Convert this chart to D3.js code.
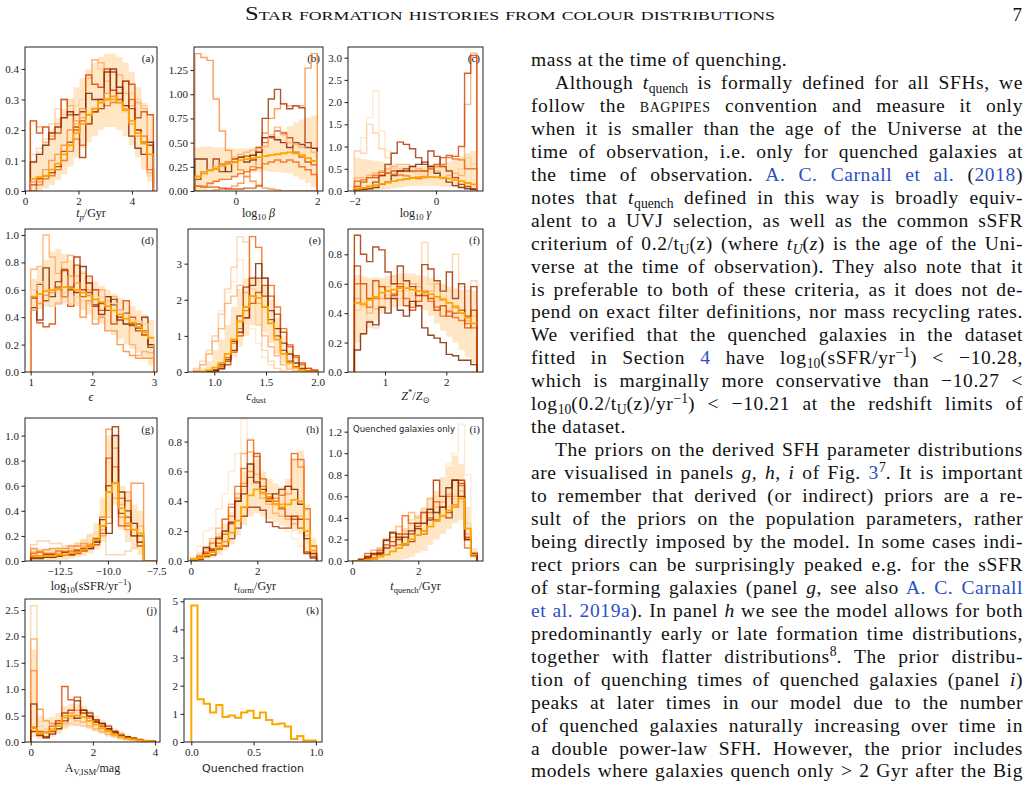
<!DOCTYPE html>
<html>
<head>
<meta charset="utf-8">
<script src="https://cdn.jsdelivr.net/npm/d3@7"></script>
<style>
  body { margin: 0; background: #fff; width: 1031px; height: 791px; overflow: hidden; position: relative; }
  .ln { position: absolute; font-family: "Liberation Serif", serif; font-size: 19.5px; line-height: 23px; letter-spacing: 0.6px; white-space: nowrap; color: #111; }
  .ln sub { font-size: 0.7em; vertical-align: -0.28em; line-height: 0; letter-spacing: 0; }
  .ln sup { font-size: 0.7em; vertical-align: 0.5em; line-height: 0; letter-spacing: 0; }
  .ln .sc { font-variant: small-caps; }
  .ln .b { color: #2b4fc4; }
</style>
</head>
<body>
<script>
const W = 1031, H = 791;

// ---------- data ----------
// (a) t_p / Gyr, bins 0.2 .. 4.8
const aMed = [0.04,0.045,0.05,0.07,0.09,0.12,0.15,0.19,0.22,0.25, 0.27,0.29,0.30,0.31,0.29,0.265,0.23,0.19,0.155,0.12];
const aLo  = [0,0,0.01,0.02,0.035,0.055,0.08,0.11,0.14,0.16, 0.18,0.2,0.21,0.21,0.2,0.18,0.15,0.11,0.07,0.03];
const aHi  = [0.1,0.13,0.16,0.2,0.24,0.27,0.3,0.34,0.37,0.4, 0.42,0.44,0.45,0.45,0.44,0.42,0.39,0.34,0.29,0.25];
const aSamples = [
  [0.12,0.14,0.17,0.22,0.27,0.25,0.30,0.28,0.30,0.35, 0.43,0.40,0.38,0.33,0.30,0.26,0.32,0.30,0.28,0.05],
  [0.23,0.21,0.16,0.18,0.22,0.30,0.28,0.22,0.24,0.37, 0.43,0.42,0.36,0.33,0.38,0.32,0.28,0.29,0.27,0.06],
  [0.00,0.02,0.04,0.05,0.07,0.10,0.13,0.17,0.15,0.22, 0.26,0.30,0.28,0.29,0.32,0.28,0.30,0.20,0.18,0.07],
  [0.23,0.19,0.21,0.17,0.19,0.30,0.25,0.20,0.23,0.38, 0.35,0.34,0.40,0.33,0.30,0.36,0.35,0.24,0.26,0.25],
  [0.02,0.04,0.05,0.06,0.08,0.13,0.16,0.21,0.11,0.22, 0.26,0.27,0.30,0.39,0.32,0.36,0.27,0.20,0.16,0.15],
  [0.095,0.12,0.15,0.19,0.21,0.24,0.26,0.25,0.26,0.32, 0.30,0.30,0.39,0.40,0.34,0.28,0.18,0.14,0.12,0.16],
  [0.03,0.03,0.07,0.10,0.12,0.15,0.20,0.23,0.27,0.25, 0.27,0.29,0.32,0.30,0.29,0.27,0.22,0.18,0.16,0.12]
];
// (b) log10 beta, bins -1 .. 2
const bMed = [0.15,0.18,0.21,0.23,0.26,0.28,0.30,0.32,0.33,0.34, 0.35,0.36,0.37,0.38,0.39,0.40,0.39,0.37,0.34,0.31];
const bLo  = [0.00,0.00,0.05,0.08,0.11,0.13,0.15,0.17,0.18,0.19, 0.20,0.21,0.20,0.20,0.19,0.18,0.15,0.12,0.08,0.04];
const bHi  = [0.45,0.46,0.46,0.45,0.45,0.44,0.44,0.44,0.44,0.45, 0.46,0.48,0.52,0.57,0.62,0.67,0.71,0.74,0.76,0.78];
const bSamples = [
  [1.42,1.38,1.35,0.95,0.62,0.42,0.30,0.22,0.15,0.10, 0.06,0.03,0.02,0.01,0.00,0.00,0.00,0.00,0.00,0.00],
  [0.00,0.00,0.00,0.01,0.02,0.03,0.05,0.08,0.15,0.25, 0.40,0.60,0.75,0.85,0.90,0.88,0.88,0.88,1.27,1.42],
  [0.12,0.20,0.22,0.33,0.20,0.30,0.33,0.35,0.36,0.32, 0.45,0.75,0.95,1.05,0.90,0.85,0.88,0.86,0.50,0.44],
  [0.33,0.33,0.22,0.23,0.28,0.20,0.30,0.35,0.30,0.37, 0.40,0.55,0.56,0.53,0.50,0.45,0.50,0.48,0.45,0.44],
  [0.05,0.04,0.04,0.04,0.03,0.02,0.02,0.02,0.03,0.03, 0.05,0.50,0.55,0.62,0.60,0.55,0.40,0.35,0.30,0.27],
  [0.15,0.20,0.22,0.25,0.28,0.30,0.35,0.38,0.40,0.42, 0.44,0.46,0.58,0.66,0.58,0.50,0.48,0.45,0.44,0.40],
  [0.05,0.05,0.08,0.10,0.12,0.12,0.15,0.18,0.20,0.22, 0.24,0.28,0.30,0.32,0.30,0.32,0.30,0.25,0.22,0.17]
];
// (c) log10 gamma, bins -2 .. 1
const cMed = [0.05,0.07,0.10,0.13,0.16,0.19,0.22,0.25,0.27,0.29, 0.31,0.32,0.32,0.31,0.30,0.28,0.25,0.22,0.18,0.15];
const cLo  = [0.00,0.00,0.00,0.00,0.02,0.04,0.06,0.08,0.10,0.11, 0.12,0.12,0.12,0.11,0.10,0.09,0.08,0.07,0.06,0.05];
const cHi  = [0.75,0.72,0.70,0.68,0.66,0.62,0.60,0.58,0.57,0.56, 0.56,0.57,0.58,0.60,0.62,0.65,0.70,0.78,0.85,0.90];
const cSamples = [
  [0.90,1.20,1.65,2.25,1.35,0.90,0.60,0.50,0.40,0.35, 0.30,0.28,0.25,0.22,0.20,0.18,0.15,0.12,0.10,0.08],
  [0.90,0.85,1.50,1.30,0.95,0.75,0.50,0.50,0.45,0.42, 0.38,0.35,0.30,0.30,0.28,0.30,0.32,0.50,0.75,0.60],
  [0.30,0.30,0.35,0.40,0.45,0.50,0.55,0.60,0.60,0.55, 0.50,0.45,0.50,0.45,0.30,0.35,0.40,0.35,1.95,3.10],
  [0.10,0.20,0.30,0.30,0.35,0.40,0.45,0.45,0.50,0.45, 0.45,0.45,0.55,0.60,0.75,0.80,0.78,1.00,2.65,3.05],
  [0.03,0.05,0.10,0.20,0.35,0.60,0.85,1.10,1.05,0.95, 0.75,0.60,0.90,0.78,0.55,0.45,0.30,0.15,0.10,0.05],
  [0.02,0.03,0.05,0.08,0.15,0.20,0.35,0.45,0.45,0.55, 0.60,0.65,0.55,0.40,0.30,0.20,0.12,0.08,0.05,0.03],
  [0.22,0.25,0.30,0.35,0.42,0.40,0.38,0.36,0.34,0.30, 0.28,0.30,0.50,0.55,0.60,0.75,0.72,0.70,0.50,0.50]
];
// (d) epsilon, bins 1 .. 3
const dMed = [0.55,0.57,0.59,0.60,0.61,0.62,0.61,0.60,0.58,0.56, 0.53,0.51,0.48,0.45,0.42,0.39,0.36,0.33,0.29,0.25];
const dLo  = [0.45,0.46,0.48,0.49,0.50,0.50,0.49,0.48,0.45,0.42, 0.38,0.35,0.30,0.27,0.24,0.20,0.17,0.14,0.10,0.05];
const dHi  = [0.68,0.76,0.82,0.88,0.90,0.86,0.82,0.78,0.74,0.70, 0.66,0.63,0.60,0.57,0.54,0.51,0.48,0.45,0.42,0.38];
const dSamples = [
  [0.75,0.77,1.00,0.84,0.72,0.80,0.85,0.70,0.72,0.60, 0.60,0.60,0.52,0.55,0.45,0.35,0.20,0.12,0.15,0.14],
  [0.55,0.36,0.33,0.35,0.50,0.75,0.48,0.78,0.55,0.70, 0.60,0.45,0.55,0.35,0.45,0.52,0.40,0.35,0.30,0.20],
  [0.47,0.38,0.76,0.55,0.62,0.55,0.60,0.58,0.77,0.65, 0.49,0.42,0.55,0.49,0.38,0.35,0.35,0.32,0.40,0.20],
  [0.54,0.64,0.52,0.60,0.66,0.74,0.62,0.84,0.60,0.58, 0.48,0.50,0.45,0.53,0.40,0.43,0.34,0.30,0.27,0.18],
  [0.60,0.66,0.60,0.48,0.50,0.58,0.50,0.55,0.52,0.50, 0.53,0.55,0.50,0.50,0.45,0.42,0.38,0.37,0.35,0.25],
  [0.45,0.50,0.56,0.58,0.60,0.55,0.70,0.65,0.40,0.52, 0.35,0.40,0.30,0.30,0.20,0.15,0.12,0.10,0.10,0.10]
];
// (e) c_dust, bins 0.8 .. 2.0
const eMed = [0.00,0.01,0.05,0.12,0.25,0.50,0.90,1.40,1.80,2.10, 2.05,1.80,1.35,0.90,0.50,0.25,0.12,0.05,0.02,0.00];
const eLo  = [0.00,0.00,0.00,0.02,0.08,0.20,0.40,0.70,1.00,1.30, 1.30,1.10,0.80,0.50,0.25,0.10,0.04,0.01,0.00,0.00];
const eHi  = [0.05,0.12,0.30,0.60,0.90,1.30,1.80,2.30,2.60,2.65, 2.60,2.40,2.00,1.50,1.00,0.60,0.35,0.20,0.10,0.05];
const eSamples = [
  [0.10,0.20,0.50,1.00,1.70,2.20,2.50,3.10,2.20,1.20, 0.80,0.40,0.20,0.10,0.05,0.00,0.00,0.00,0.00,0.00],
  [0.10,0.30,0.60,1.00,1.60,2.30,2.90,3.75,3.60,2.30, 1.30,0.60,0.30,0.10,0.02,0.00,0.00,0.00,0.00,0.00],
  [0.05,0.20,0.50,0.85,1.20,1.90,2.10,2.40,2.20,2.10, 1.90,1.00,0.70,0.45,0.20,0.08,0.02,0.00,0.00,0.00],
  [0.00,0.00,0.02,0.05,0.15,0.40,0.80,1.20,1.70,3.75, 3.45,2.60,2.40,1.80,1.20,0.70,0.40,0.20,0.10,0.05],
  [0.00,0.00,0.00,0.02,0.08,0.20,0.55,1.00,1.50,1.90, 2.20,2.40,2.10,1.60,1.10,0.75,0.45,0.25,0.10,0.05],
  [0.00,0.00,0.01,0.05,0.20,0.35,0.85,1.55,2.35,2.60, 2.60,2.10,1.45,1.00,0.60,0.30,0.15,0.05,0.02,0.00],
  [0.00,0.00,0.02,0.05,0.10,0.30,0.60,1.10,1.50,2.40, 3.00,2.60,1.70,1.20,0.80,0.50,0.25,0.10,0.03,0.00]
];
// (f) Z*/Zsun, bins 0.5 .. 2.5
const fMed = [0.47,0.46,0.49,0.51,0.54,0.55,0.56,0.57,0.57,0.56, 0.55,0.54,0.53,0.51,0.49,0.47,0.44,0.40,0.37,0.33];
const fLo  = [0.20,0.25,0.30,0.35,0.40,0.42,0.44,0.45,0.45,0.45, 0.44,0.42,0.38,0.33,0.28,0.24,0.20,0.15,0.10,0.06];
const fHi  = [0.66,0.65,0.64,0.64,0.64,0.65,0.66,0.67,0.67,0.67, 0.66,0.65,0.64,0.62,0.60,0.58,0.57,0.56,0.56,0.55];
const fSamples = [
  [0.42,0.45,0.35,0.30,0.45,0.52,0.65,0.50,0.55,0.52, 0.60,0.88,0.60,0.48,0.50,0.55,0.80,0.58,0.55,0.62],
  [0.50,0.47,0.40,0.43,0.50,0.58,0.60,0.55,0.62,0.60, 0.58,0.52,0.55,0.60,0.50,0.42,0.45,0.40,0.35,0.38],
  [0.60,0.46,0.44,0.50,0.58,0.55,0.53,0.60,0.50,0.44, 0.55,0.55,0.48,0.44,0.38,0.41,0.37,0.35,0.33,0.30],
  [0.72,0.60,0.50,0.62,0.58,0.50,0.52,0.58,0.45,0.42, 0.48,0.52,0.50,0.42,0.45,0.38,0.40,0.42,0.30,0.42],
  [0.93,0.80,0.75,0.85,0.83,0.68,0.60,0.72,0.62,0.58, 0.52,0.73,0.70,0.62,0.55,0.68,0.50,0.60,0.38,0.58],
  [0.15,0.26,0.34,0.32,0.44,0.40,0.50,0.42,0.38,0.48, 0.45,0.30,0.25,0.23,0.20,0.12,0.11,0.08,0.08,0.05]
];
// (g) log10 sSFR, bins -14 .. -7.5
const gMed = [0.04,0.04,0.04,0.04,0.05,0.05,0.06,0.07,0.09,0.12, 0.17,0.28,0.55,0.62,0.42,0.30,0.25,0.22,0.00,0.00];
const gLo  = [0.00,0.00,0.00,0.00,0.01,0.01,0.02,0.03,0.04,0.06, 0.09,0.15,0.35,0.45,0.25,0.15,0.10,0.05,0.00,0.00];
const gHi  = [0.10,0.10,0.10,0.10,0.11,0.12,0.13,0.15,0.18,0.22, 0.30,0.50,1.00,1.00,0.60,0.55,0.45,0.40,0.00,0.00];
const gSamples = [
  [0.13,0.16,0.16,0.14,0.14,0.12,0.12,0.14,0.16,0.20, 0.22,0.25,0.05,0.05,0.05,0.08,0.10,0.12,0.00,0.00],
  [0.07,0.07,0.06,0.06,0.06,0.08,0.10,0.12,0.12,0.14, 0.16,0.25,0.35,0.50,0.45,0.55,0.30,0.28,0.00,0.00],
  [0.10,0.08,0.09,0.10,0.10,0.10,0.12,0.12,0.14,0.13, 0.15,0.20,1.05,0.90,0.35,0.25,0.62,0.62,0.00,0.00],
  [0.06,0.07,0.06,0.06,0.08,0.07,0.08,0.09,0.10,0.12, 0.16,0.35,0.30,0.75,0.50,0.48,0.25,0.15,0.00,0.00],
  [0.03,0.03,0.03,0.03,0.04,0.05,0.05,0.06,0.08,0.10, 0.13,0.22,0.82,0.62,0.28,0.28,0.20,0.12,0.00,0.00],
  [0.04,0.04,0.05,0.05,0.05,0.07,0.06,0.08,0.10,0.12, 0.18,0.28,0.60,1.07,0.38,0.35,0.20,0.15,0.00,0.00],
  [0.02,0.02,0.03,0.03,0.04,0.05,0.05,0.07,0.09,0.10, 0.15,0.33,0.22,1.00,0.55,0.40,0.30,0.20,0.00,0.00]
];
// (h) t_form / Gyr, bins 0 .. 3.78
const hMed = [0.01,0.02,0.04,0.06,0.09,0.13,0.19,0.27,0.36,0.44, 0.48,0.46,0.41,0.38,0.36,0.38,0.41,0.40,0.20,0.07];
const hLo  = [0.00,0.00,0.01,0.02,0.04,0.07,0.11,0.17,0.24,0.30, 0.32,0.30,0.28,0.26,0.24,0.22,0.20,0.18,0.06,0.02];
const hHi  = [0.03,0.06,0.10,0.14,0.19,0.25,0.33,0.46,0.60,0.66, 0.68,0.60,0.55,0.52,0.50,0.55,0.68,0.74,0.38,0.15];
const hSamples = [
  [0.02,0.10,0.20,0.22,0.35,0.45,0.60,0.72,0.95,0.82, 0.60,0.45,0.35,0.30,0.25,0.20,0.15,0.10,0.05,0.02],
  [0.00,0.04,0.08,0.15,0.22,0.28,0.38,0.45,0.72,0.73, 0.58,0.42,0.38,0.32,0.30,0.28,0.25,0.30,0.17,0.05],
  [0.00,0.03,0.05,0.08,0.10,0.20,0.30,0.42,0.52,0.60, 0.52,0.45,0.43,0.42,0.38,0.45,0.68,0.63,0.28,0.10],
  [0.01,0.03,0.06,0.12,0.16,0.28,0.36,0.50,0.62,0.81, 0.70,0.50,0.45,0.40,0.44,0.50,0.72,0.68,0.35,0.10],
  [0.01,0.02,0.05,0.08,0.12,0.18,0.25,0.40,0.50,0.56, 0.72,0.55,0.42,0.38,0.35,0.30,0.28,0.22,0.06,0.03],
  [0.01,0.01,0.03,0.04,0.08,0.10,0.15,0.22,0.30,0.36, 0.36,0.34,0.26,0.23,0.22,0.22,0.30,0.28,0.05,0.02],
  [0.00,0.02,0.09,0.07,0.15,0.20,0.26,0.40,0.45,0.65, 0.53,0.48,0.40,0.45,0.48,0.50,0.48,0.38,0.15,0.05]
];
// (i) t_quench / Gyr, bins 0 .. 3.78
const iMed = [0.00,0.00,0.01,0.02,0.04,0.06,0.09,0.12,0.16,0.20, 0.24,0.28,0.32,0.37,0.42,0.47,0.52,0.58,0.30,0.06];
const iLo  = [0.00,0.00,0.00,0.00,0.00,0.00,0.00,0.01,0.02,0.04, 0.08,0.10,0.15,0.20,0.25,0.30,0.35,0.38,0.18,0.02];
const iHi  = [0.01,0.02,0.05,0.08,0.12,0.16,0.20,0.26,0.30,0.36, 0.42,0.50,0.58,0.65,0.78,0.88,0.98,0.90,0.50,0.12];
const iSamples = [
  [0.00,0.00,0.00,0.00,0.00,0.00,0.00,0.00,0.03,0.05, 0.08,0.10,0.30,0.45,0.60,0.90,1.00,1.27,0.80,0.10],
  [0.00,0.01,0.03,0.05,0.08,0.12,0.18,0.24,0.30,0.38, 0.42,0.48,0.45,0.60,0.55,0.50,0.58,0.55,0.35,0.08],
  [0.00,0.02,0.05,0.10,0.12,0.20,0.22,0.32,0.28,0.45, 0.40,0.45,0.58,0.50,0.55,0.62,0.60,0.65,0.25,0.05],
  [0.00,0.02,0.07,0.03,0.10,0.20,0.27,0.15,0.42,0.35, 0.30,0.25,0.45,0.55,0.42,0.60,0.50,0.70,0.12,0.07],
  [0.00,0.01,0.03,0.06,0.08,0.15,0.18,0.25,0.25,0.25, 0.32,0.45,0.40,0.38,0.50,0.45,0.75,0.72,0.22,0.05],
  [0.00,0.00,0.02,0.02,0.06,0.12,0.14,0.20,0.22,0.18, 0.30,0.28,0.38,0.75,0.60,0.40,0.75,0.75,0.20,0.05],
  [0.00,0.01,0.04,0.07,0.07,0.19,0.26,0.22,0.15,0.28, 0.35,0.35,0.48,0.45,0.50,0.68,0.75,0.60,0.20,0.07]
];
// (j) A_V,ISM / mag, bins 0 .. 4
const jMed = [0.26,0.16,0.18,0.22,0.30,0.46,0.50,0.50,0.47,0.40, 0.33,0.26,0.20,0.14,0.10,0.07,0.05,0.03,0.02,0.01];
const jLo  = [0.10,0.05,0.06,0.10,0.15,0.25,0.30,0.30,0.28,0.24, 0.20,0.15,0.10,0.07,0.04,0.02,0.01,0.00,0.00,0.00];
const jHi  = [1.75,0.50,0.45,0.48,0.55,0.68,0.72,0.72,0.68,0.60, 0.50,0.42,0.34,0.26,0.20,0.14,0.10,0.06,0.04,0.02];
const jSamples = [
  [2.58,0.30,0.25,0.20,0.25,0.30,0.35,0.33,0.30,0.28, 0.22,0.18,0.14,0.10,0.07,0.05,0.03,0.02,0.01,0.00],
  [1.95,0.18,0.20,0.25,0.30,0.35,0.45,0.40,0.38,0.30, 0.25,0.20,0.15,0.12,0.08,0.06,0.04,0.02,0.01,0.00],
  [1.35,0.62,0.40,0.35,0.40,0.50,0.55,0.60,0.55,0.45, 0.38,0.30,0.22,0.16,0.12,0.10,0.06,0.04,0.02,0.01],
  [0.28,0.20,0.18,0.30,0.40,1.05,0.80,0.85,0.55,0.50, 0.40,0.30,0.25,0.20,0.15,0.10,0.08,0.05,0.03,0.02],
  [0.72,0.15,0.10,0.20,0.35,0.55,0.60,0.78,0.60,0.55, 0.42,0.35,0.30,0.18,0.12,0.08,0.05,0.03,0.02,0.01],
  [0.20,0.12,0.08,0.15,0.25,0.40,0.50,0.45,0.60,0.48, 0.38,0.35,0.25,0.20,0.12,0.10,0.06,0.04,0.02,0.01]
];
// (k) quenched fraction, bins 0 .. 1
const kVals = [4.85,1.52,1.36,1.05,1.31,0.89,0.94,0.86,1.05,1.11, 0.85,1.05,0.78,0.63,0.66,0.55,0.11,0.21,0.05,0.05];

// ---------- styles ----------
const shades = ["#fee6ce", "#fdd0a2", "#fdae6b", "#fd8d3c", "#f16913", "#d94801", "#a63603", "#7f2704"];
const bandColor = "#ffe6c4";
const medColor = "#ffa500";
const serif = "'Liberation Serif', 'DejaVu Serif', serif";
const sans = "'DejaVu Sans', sans-serif";

const panels = [
  { id: "a", frame: [25, 47, 157, 191], x: [0, 4.935], y: [0, 0.472], bins: [0.2, 4.8],
    xt: [0, 2, 4], xf: "d", yt: [0, 0.1, 0.2, 0.3, 0.4], yf: ".1f",
    med: aMed, lo: aLo, hi: aHi, samples: aSamples, cols: [1, 2, 4, 5, 6, 7, 3],
    label: [["t", "i"], ["p", "isub"], ["/Gyr", ""]], labelY: 217 },
  { id: "b", frame: [194, 47, 323, 191], x: [-1.02, 2.14], y: [0, 1.488], bins: [-1, 2],
    xt: [0, 2], xf: "d", yt: [0, 0.25, 0.5, 0.75, 1.0, 1.25], yf: ".2f",
    med: bMed, lo: bLo, hi: bHi, samples: bSamples, cols: [3, 3, 6, 7, 5, 2, 4],
    label: [["log", ""], ["10", "sub"], [" β", "i"]], labelY: 217 },
  { id: "c", frame: [348, 47, 483, 191], x: [-2.157, 1.152], y: [0, 3.24], bins: [-2, 1],
    xt: [-2, 0], xf: "d", yt: [0, 0.5, 1, 1.5, 2, 2.5, 3], yf: ".1f",
    med: cMed, lo: cLo, hi: cHi, samples: cSamples, cols: [0, 1, 2, 5, 6, 7, 4],
    label: [["log", ""], ["10", "sub"], [" γ", "i"]], labelY: 217 },
  { id: "d", frame: [25, 229, 157, 372], x: [0.908, 3.047], y: [0, 1.044], bins: [1, 3],
    xt: [1, 2, 3], xf: "d", yt: [0, 0.2, 0.4, 0.6, 0.8, 1.0], yf: ".1f",
    med: dMed, lo: dLo, hi: dHi, samples: dSamples, cols: [2, 5, 7, 6, 1, 3],
    label: [["ϵ", "i"]], labelY: 401 },
  { id: "e", frame: [188, 229, 324, 372], x: [0.746, 2.061], y: [0, 3.96], bins: [0.8, 2.0],
    xt: [1, 1.5, 2], xf: ".1f", yt: [0, 1, 2, 3], yf: "d",
    med: eMed, lo: eLo, hi: eHi, samples: eSamples, cols: [0, 1, 2, 4, 5, 6, 7],
    label: [["c", "i"], ["dust", "sub"]], labelY: 400 },
  { id: "f", frame: [348, 229, 483, 372], x: [0.396, 2.599], y: [0, 0.972], bins: [0.5, 2.5],
    xt: [1, 2], xf: "d", yt: [0, 0.2, 0.4, 0.6, 0.8], yf: ".1f",
    med: fMed, lo: fLo, hi: fHi, samples: fSamples, cols: [1, 2, 4, 5, 6, 7],
    label: [["Z", "i"], ["*", "sup"], ["/", ""], ["Z", "i"], ["⊙", "sub"]], labelY: 400 },
  { id: "g", frame: [25, 418, 157, 561], x: [-14.295, -7.456], y: [0, 1.14], bins: [-14, -7.5],
    xt: [-12.5, -10, -7.5], xf: ".1f", yt: [0, 0.2, 0.4, 0.6, 0.8, 1.0], yf: ".1f",
    med: gMed, lo: gLo, hi: gHi, samples: gSamples, cols: [1, 2, 3, 4, 5, 6, 7],
    label: [["log", ""], ["10", "sub"], ["(sSFR/yr", ""], ["−1", "sup"], [")", ""]], labelY: 590 },
  { id: "h", frame: [188, 418, 322, 561], x: [-0.081, 3.943], y: [0, 0.958], bins: [0, 3.78],
    xt: [0, 2], xf: "d", yt: [0, 0.2, 0.4, 0.6, 0.8], yf: ".1f",
    med: hMed, lo: hLo, hi: hHi, samples: hSamples, cols: [0, 2, 3, 4, 5, 6, 7],
    label: [["t", "i"], ["form", "sub"], ["/Gyr", ""]], labelY: 590 },
  { id: "i", frame: [348, 418, 483, 561], x: [-0.13, 3.96], y: [0, 1.327], bins: [0, 3.78],
    xt: [0, 2], xf: "d", yt: [0, 0.2, 0.4, 0.6, 0.8, 1.0, 1.2], yf: ".1f",
    med: iMed, lo: iLo, hi: iHi, samples: iSamples, cols: [0, 1, 2, 4, 5, 6, 7],
    label: [["t", "i"], ["quench", "sub"], ["/Gyr", ""]], labelY: 590, note: "Quenched galaxies only" },
  { id: "j", frame: [25, 599, 160, 742], x: [-0.183, 4.157], y: [0, 2.708], bins: [0, 4],
    xt: [0, 2, 4], xf: "d", yt: [0, 0.5, 1, 1.5, 2, 2.5], yf: ".1f",
    med: jMed, lo: jLo, hi: jHi, samples: jSamples, cols: [1, 2, 3, 5, 6, 7],
    label: [["A", ""], ["V,ISM", "sub"], ["/mag", ""]], labelY: 772 },
  { id: "k", frame: [184, 599, 322, 742], x: [-0.0586, 1.049], y: [0, 5.08], bins: [0, 1],
    xt: [0, 0.5, 1], xf: ".1f", yt: [0, 1, 2, 3, 4, 5], yf: "d",
    med: kVals, lo: null, hi: null, samples: [], cols: [],
    label: [["Quenched fraction", "sans"]], labelY: 772 }
];

const svg = d3.select("body").append("svg")
  .attr("width", W).attr("height", H)
  .style("position", "absolute").style("left", 0).style("top", 0);

// running head
svg.append("text")
  .attr("x", 245).attr("y", 20)
  .attr("textLength", 530).attr("lengthAdjust", "spacingAndGlyphs")
  .style("font-family", serif).style("font-size", "18px").style("font-variant", "small-caps")
  .attr("fill", "#111")
  .text("Star formation histories from colour distributions");
svg.append("text")
  .attr("x", 1022).attr("y", 21).attr("text-anchor", "end")
  .style("font-family", serif).style("font-size", "19px").attr("fill", "#111")
  .text("7");

function addLabel(sel, segs) {
  let shift = 0;
  segs.forEach(([t, k]) => {
    const target = k.includes("sub") ? 3 : k.includes("sup") ? -5 : 0;
    const ts = sel.append("tspan").text(t).attr("dy", target - shift);
    shift = target;
    if (k.includes("i")) ts.attr("font-style", "italic");
    if (k === "sans") ts.style("font-family", sans).style("font-size", "11px");
    if (target) ts.attr("font-size", "0.72em");
  });
}

panels.forEach(p => {
  const [x0, y0, x1, y1] = p.frame;
  const x = d3.scaleLinear().domain(p.x).range([x0, x1]);
  const y = d3.scaleLinear().domain(p.y).range([y1, y0]);
  const g = svg.append("g");

  const clipId = "clip-" + p.id;
  svg.append("clipPath").attr("id", clipId)
    .append("rect").attr("x", x0).attr("y", y0).attr("width", x1 - x0).attr("height", y1 - y0);
  const plot = g.append("g").attr("clip-path", `url(#${clipId})`);

  const n = p.med.length;
  const bw = (p.bins[1] - p.bins[0]) / n;
  const edge = i => p.bins[0] + i * bw;

  // 16-84 band
  if (p.lo) {
    const pts = [];
    p.lo.forEach((v, i) => {
      pts.push({ x: edge(i), lo: v, hi: p.hi[i] });
      pts.push({ x: edge(i + 1), lo: v, hi: p.hi[i] });
    });
    plot.append("path")
      .attr("d", d3.area().x(d => x(d.x)).y0(d => y(d.lo)).y1(d => y(d.hi))(pts))
      .attr("fill", bandColor);
  }

  const step = (vals, closed) => {
    const pts = [];
    if (closed) pts.push([edge(0), 0]);
    vals.forEach((v, i) => { pts.push([edge(i), v]); pts.push([edge(i + 1), v]); });
    if (closed) pts.push([edge(n), 0]);
    return d3.line().x(d => x(d[0])).y(d => y(d[1]))(pts);
  };

  p.samples.forEach((s, i) => {
    plot.append("path").attr("d", step(s, true))
      .attr("fill", "none").attr("stroke", shades[p.cols[i]])
      .attr("stroke-width", 1.4).attr("stroke-opacity", 0.85);
  });

  if (p.id === "k") {
    plot.append("path").attr("d", step(p.med, true))
      .attr("fill", "none").attr("stroke", medColor).attr("stroke-width", 2);
  } else {
    plot.append("path").attr("d", step(p.med, false))
      .attr("fill", "none").attr("stroke", medColor).attr("stroke-width", 1.8);
  }

  // axes
  const xa = g.append("g").attr("transform", `translate(0,${y1})`)
    .call(d3.axisBottom(x).tickValues(p.xt).tickFormat(d3.format(p.xf)).tickSize(3.5).tickPadding(2.5));
  const ya = g.append("g").attr("transform", `translate(${x0},0)`)
    .call(d3.axisLeft(y).tickValues(p.yt).tickFormat(d3.format(p.yf)).tickSize(3.5).tickPadding(2.5));
  [xa, ya].forEach(a => {
    a.attr("font-family", serif).attr("font-size", 11);
    a.select(".domain").remove();
    a.selectAll("line").attr("stroke", "#222");
    a.selectAll("text").attr("fill", "#222");
  });

  g.append("rect")
    .attr("x", x0).attr("y", y0).attr("width", x1 - x0).attr("height", y1 - y0)
    .attr("fill", "none").attr("stroke", "#222").attr("stroke-width", 1);

  g.append("text")
    .attr("x", x1 - 3).attr("y", y0 + 15).attr("text-anchor", "end")
    .style("font-family", serif).style("font-size", "11px").attr("fill", "#222")
    .text(`(${p.id})`);

  if (p.note) {
    g.append("text")
      .attr("x", x0 + 5).attr("y", y0 + 14)
      .style("font-family", sans).style("font-size", "8.5px").attr("fill", "#222")
      .text(p.note);
  }

  const lab = g.append("text")
    .attr("x", (x0 + x1) / 2).attr("y", p.labelY).attr("text-anchor", "middle")
    .style("font-family", serif).style("font-size", "12px").attr("fill", "#222");
  addLabel(lab, p.label);
});

// ---------- body text (right column) ----------
const textLines = [
  "mass at the time of quenching.",
  "Although <i>t</i><sub>quench</sub> is formally defined for all SFHs, we",
  "follow the <span class=sc>bagpipes</span> convention and measure it only",
  "when it is smaller than the age of the Universe at the",
  "time of observation, i.e. only for quenched galaxies at",
  "the time of observation. <span class=b>A. C. Carnall et al.</span> (<span class=b>2018</span>)",
  "notes that <i>t</i><sub>quench</sub> defined in this way is broadly equiv-",
  "alent to a UVJ selection, as well as the common sSFR",
  "criterium of 0.2/t<sub>U</sub>(z) (where <i>t<sub>U</sub></i>(<i>z</i>) is the age of the Uni-",
  "verse at the time of observation). They also note that it",
  "is preferable to both of these criteria, as it does not de-",
  "pend on exact filter definitions, nor mass recycling rates.",
  "We verified that the quenched galaxies in the dataset",
  "fitted in Section <span class=b>4</span> have log<sub>10</sub>(sSFR/yr<sup>−1</sup>) &lt; −10.28,",
  "which is marginally more conservative than −10.27 &lt;",
  "log<sub>10</sub>(0.2/t<sub>U</sub>(z)/yr<sup>−1</sup>) &lt; −10.21 at the redshift limits of",
  "the dataset.",
  "The priors on the derived SFH parameter distributions",
  "are visualised in panels <i>g, h, i</i> of Fig. <span class=b>3</span><sup>7</sup>. It is important",
  "to remember that derived (or indirect) priors are a re-",
  "sult of the priors on the population parameters, rather",
  "being directly imposed by the model. In some cases indi-",
  "rect priors can be surprisingly peaked e.g. for the sSFR",
  "of star-forming galaxies (panel <i>g</i>, see also <span class=b>A. C. Carnall</span>",
  "<span class=b>et al. 2019a</span>). In panel <i>h</i> we see the model allows for both",
  "predominantly early or late formation time distributions,",
  "together with flatter distributions<sup>8</sup>. The prior distribu-",
  "tion of quenching times of quenched galaxies (panel <i>i</i>)",
  "peaks at later times in our model due to the number",
  "of quenched galaxies naturally increasing over time in",
  "a double power-law SFH. However, the prior includes",
  "models where galaxies quench only &gt; 2 Gyr after the Big"
];
const indented = [1, 17];
const ragged = [0, 16];
const colLeft = 531, colWidth = 492, firstBase = 66, lineStep = 22.95;

textLines.forEach((t, i) => {
  const ind = indented.includes(i) ? 24 : 0;
  const div = d3.select("body").append("div").attr("class", "ln")
    .style("left", (colLeft + ind) + "px")
    .style("top", (firstBase + i * lineStep - 18) + "px");
  const span = div.append("span").html(t);
  if (!ragged.includes(i)) {
    const w = span.node().getBoundingClientRect().width;
    const gaps = (span.node().textContent.match(/ /g) || []).length;
    if (gaps) div.style("word-spacing", ((colWidth - ind - w) / gaps) + "px");
  }
});
</script>
</body>
</html>
